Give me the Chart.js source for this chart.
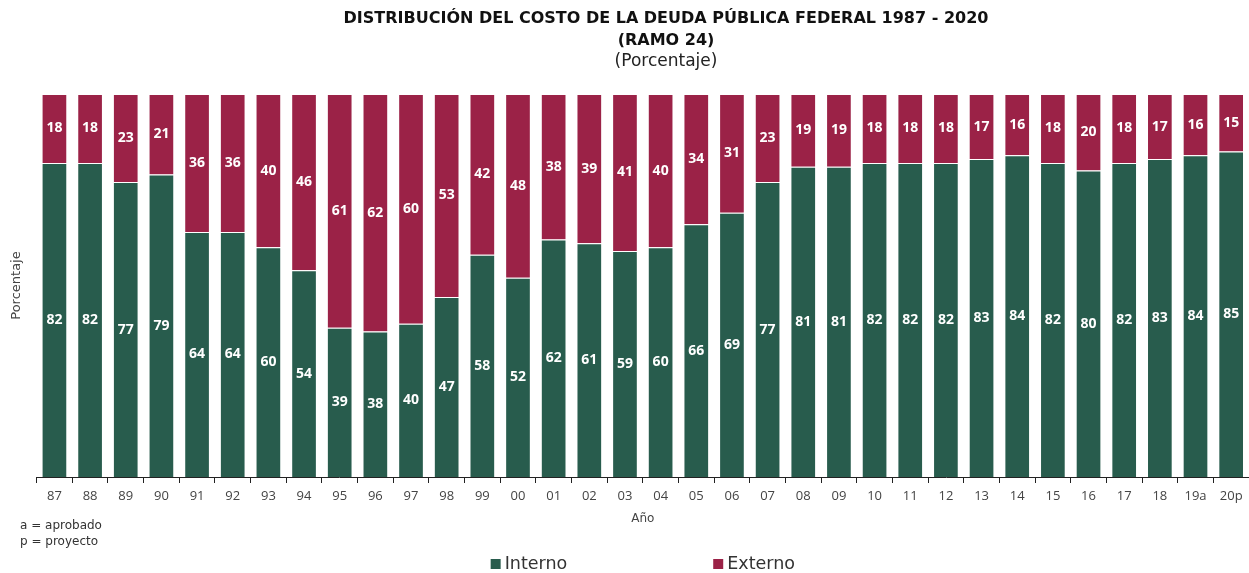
<!DOCTYPE html>
<html>
<head>
<meta charset="utf-8">
<script src="https://cdn.jsdelivr.net/npm/chart.js@4/dist/chart.umd.min.js"></script>
<style>
  html, body { margin: 0; padding: 0; background: #fff; }
  #wrap { width: 1249px; height: 573px; position: relative; }
</style>
</head>
<body>
<div id="wrap"><canvas id="chart"></canvas></div>
<script>
const years = ['87', '88', '89', '90', '91', '92', '93', '94', '95', '96', '97', '98', '99', '00', '01', '02', '03', '04',
	'05', '06', '07', '08', '09', '10', '11', '12', '13', '14', '15', '16', '17', '18', '19a', '20p'];
const interno = [82, 82, 77, 79, 64, 64, 60, 54, 39, 38, 40, 47, 58, 52, 62, 61, 59, 60,
	66, 69, 77, 81, 81, 82, 82, 82, 83, 84, 82, 80, 82, 83, 84, 85];
const externo = [18, 18, 23, 21, 36, 36, 40, 46, 61, 62, 60, 53, 42, 48, 38, 39, 41, 40,
	34, 31, 23, 19, 19, 18, 18, 18, 17, 16, 18, 20, 18, 17, 16, 15];
const titleLines = ['DISTRIBUCIÓN DEL COSTO DE LA DEUDA PÚBLICA FEDERAL 1987 - 2020', '(RAMO 24)'];
const subtitle = '(Porcentaje)';
const notes = ['a = aprobado', 'p = proyecto'];

const GREEN = '#285C4D';
const MAROON = '#9B2247';
const FONT = "'Open Sans', sans-serif";
const WIDE = "'DejaVu Sans', sans-serif";

// white numbers in the middle of every segment
const segmentLabels = {
	id: 'segmentLabels',
	afterDatasetsDraw(chart) {
		const ctx = chart.ctx;
		ctx.save();
		ctx.fillStyle = '#fff';
		ctx.font = `bold 14px ${FONT}`;
		ctx.textAlign = 'center';
		ctx.textBaseline = 'middle';
		chart.data.datasets.forEach((ds, i) => {
			chart.getDatasetMeta(i).data.forEach((bar, j) => {
				const p = bar.getProps(['x', 'y', 'base'], true);
				ctx.fillText(ds.data[j], p.x, (p.y + p.base) / 2);
			});
		});
		ctx.restore();
	}
};

// heading sits a bit right of the page centre in the original
const heading = {
	id: 'heading',
	afterDraw(chart) {
		const ctx = chart.ctx;
		const cx = 666;
		ctx.save();
		ctx.textAlign = 'center';
		ctx.textBaseline = 'middle';
		ctx.fillStyle = '#111';
		ctx.font = `bold 16px ${WIDE}`;
		titleLines.forEach((t, i) => ctx.fillText(t, cx, 19 + i * 22));
		ctx.fillStyle = '#222';
		ctx.font = `17px ${WIDE}`;
		ctx.fillText(subtitle, cx, 62);
		ctx.restore();
	}
};

// footnotes + legend spaced wide under the axis
const footer = {
	id: 'footer',
	afterDraw(chart) {
		const ctx = chart.ctx;
		const area = chart.chartArea;
		ctx.save();
		ctx.fillStyle = '#333';
		ctx.font = `12px ${WIDE}`;
		ctx.textAlign = 'left';
		ctx.textBaseline = 'middle';
		notes.forEach((n, i) => ctx.fillText(n, 20, 526 + i * 16));

		ctx.font = `17.5px ${WIDE}`;
		const gap = 146;
		const items = chart.data.datasets.map(ds => ({ text: ds.label, color: ds.backgroundColor, w: 14 + ctx.measureText(ds.label).width }));
		const total = items.reduce((s, it) => s + it.w, 0) + gap * (items.length - 1);
		let x = (area.left + area.right) / 2 - total / 2;
		const y = 564;
		items.forEach(it => {
			ctx.fillStyle = it.color;
			ctx.fillRect(x, y - 5, 10, 10);
			ctx.fillStyle = '#333';
			ctx.fillText(it.text, x + 14, y);
			x += it.w + gap;
		});
		ctx.restore();
	}
};

new Chart(document.getElementById('chart'), {
	type: 'bar',
	data: {
		labels: years,
		datasets: [
			{ label: 'Interno', data: interno, backgroundColor: GREEN, borderColor: '#fff', borderWidth: 1 },
			{ label: 'Externo', data: externo, backgroundColor: MAROON, borderColor: '#fff', borderWidth: 1 },
		],
	},
	options: {
		responsive: true,
		maintainAspectRatio: false,
		animation: false,
		datasets: { bar: { barPercentage: 0.72, categoryPercentage: 1 } },
		layout: { padding: { top: 94, left: 7, right: 0, bottom: 47 } },
		plugins: {
			legend: { display: false },
			tooltip: { enabled: false },
			title: { display: false },
		},
		scales: {
			x: {
				stacked: true,
				grid: { display: true, drawOnChartArea: false, offset: true, color: '#222', tickLength: 6 },
				border: { display: true, color: '#222' },
				ticks: { color: '#444', font: { family: FONT, size: 13 }, padding: 5 },
				title: { display: true, text: 'Año', color: '#444', font: { family: WIDE, size: 12 }, padding: { top: 3, bottom: 0 } },
			},
			y: {
				stacked: true,
				min: 0,
				max: 100,
				grid: { display: false },
				border: { display: false },
				ticks: { display: false },
				title: { display: true, text: 'Porcentaje', color: '#444', font: { family: WIDE, size: 13 }, padding: { top: 2, bottom: 4 } },
			},
		},
	},
	plugins: [segmentLabels, heading, footer],
});
</script>
</body>
</html>
